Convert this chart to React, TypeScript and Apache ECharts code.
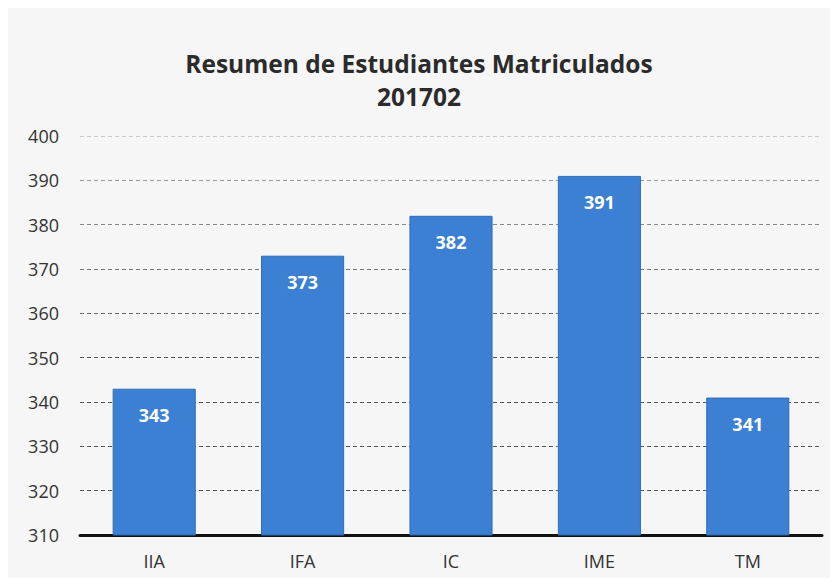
import React, { useEffect, useRef } from "react";
import * as echarts from "echarts";

const categories = ["IIA", "IFA", "IC", "IME", "TM"];
const values = [343, 373, 382, 391, 341];
const titleLines = ["Resumen de Estudiantes Matriculados", "201702"];
const yMin = 310;
const yMax = 400;
const yStep = 10;

export default function App() {
  const ref = useRef<HTMLDivElement>(null);
  useEffect(() => {
    if (!ref.current) return;
    const chart = echarts.init(ref.current, null, { renderer: "svg" });
    const gridColors = [
      "#555", "#555", "#555", "#555", "#555", "#666", "#777", "#888", "#999", "#c8c8c8",
    ];
    chart.setOption({
      animation: false,
      backgroundColor: "#f6f6f6",
      title: {
        text: titleLines.join("\n"),
        left: "center",
        top: 34,
        textStyle: {
          fontFamily: "Open Sans",
          fontWeight: "bold",
          fontSize: 24.5,
          lineHeight: 33,
          color: "#2b2b2b",
        },
      },
      grid: { left: 72, right: 8, top: 128, bottom: 43, containLabel: false },
      xAxis: {
        type: "category",
        data: categories,
        axisLine: { lineStyle: { color: "#111", width: 3 } },
        axisTick: { show: false },
        axisLabel: {
          fontFamily: "Open Sans",
          fontSize: 18,
          color: "#333",
          margin: 17,
        },
      },
      yAxis: {
        type: "value",
        min: yMin,
        max: yMax,
        interval: yStep,
        axisLine: { show: false },
        axisTick: { show: false },
        axisLabel: {
          fontFamily: "Open Sans",
          fontSize: 18,
          color: "#333",
          margin: 21,
        },
        splitLine: {
          lineStyle: { color: gridColors, type: [4, 3], width: 1 },
        },
      },
      series: [
        {
          type: "bar",
          data: values,
          barWidth: "56%",
          itemStyle: { color: "#3b80d2", borderColor: "#2f6db8", borderWidth: 1 },
          label: {
            show: true,
            position: "insideTop",
            distance: 17,
            color: "#ffffff",
            fontFamily: "Open Sans",
            fontWeight: "bold",
            fontSize: 18,
          },
        },
      ],
    });
    return () => chart.dispose();
  }, []);
  return <div ref={ref} style={{ width: 822, height: 570 }} />;
}
